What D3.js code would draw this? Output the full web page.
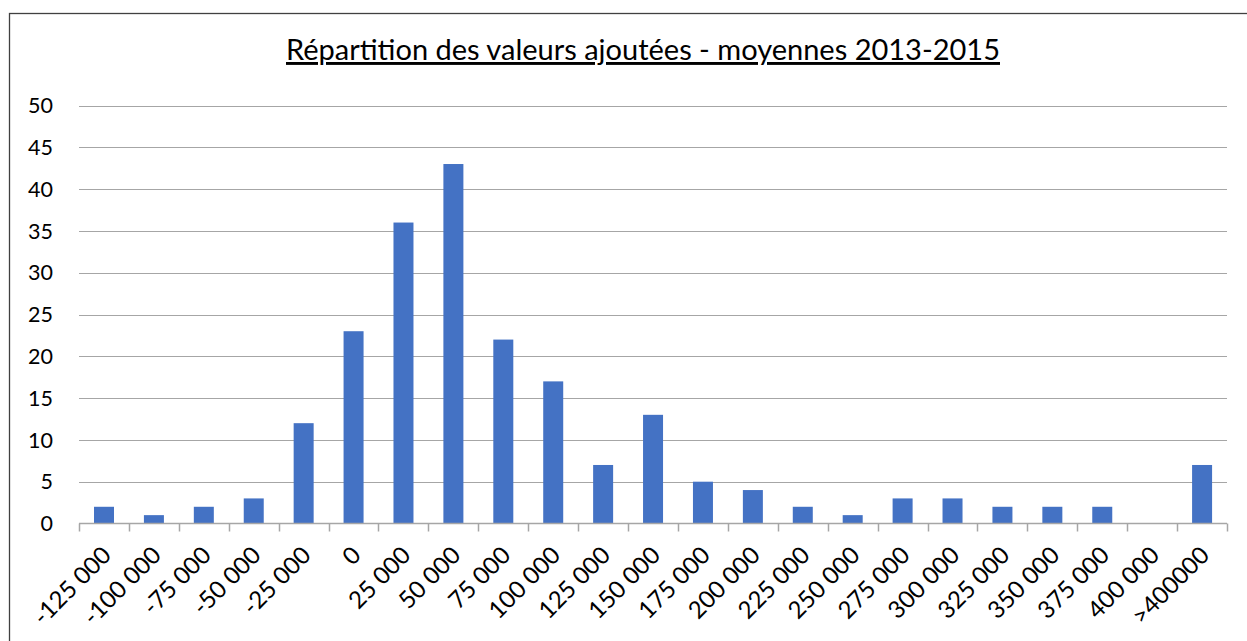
<!DOCTYPE html>
<html>
<head>
<meta charset="utf-8">
<script src="https://d3js.org/d3.v7.min.js"></script>
<style>
  body { margin: 0; background: #fff; }
  text { font-family: Lato, "Open Sans", sans-serif; fill: #000; }
</style>
</head>
<body>
<div id="my_dataviz"></div>
<script>
// categories (upper bound of each class) and counts
var categories = ["-125 000", "-100 000", "-75 000", "-50 000", "-25 000", "0", "25 000", "50 000",
  "75 000", "100 000", "125 000", "150 000", "175 000", "200 000", "225 000", "250 000",
  "275 000", "300 000", "325 000", "350 000", "375 000", "400 000", ">400000"]
var counts = [2, 1, 2, 3, 12, 23, 36, 43, 22, 17, 7, 13, 5, 4, 2, 1, 3, 3, 2, 2, 2, 0, 7]
var yTicks = [0, 5, 10, 15, 20, 25, 30, 35, 40, 45, 50]
var title = "Répartition des valeurs ajoutées - moyennes 2013-2015"

var width = 1247, height = 641
var plotLeft = 79, plotRight = 1227, plotTop = 105.5, plotBottom = 523.5

var svg = d3.select("#my_dataviz").append("svg")
  .attr("width", width).attr("height", height)

// chart border
svg.append("rect")
  .attr("x", 9.5).attr("y", 13.5)
  .attr("width", 1260).attr("height", 660)
  .attr("fill", "none").attr("stroke", "#404040").attr("stroke-width", 1.3)

// title
svg.append("text")
  .attr("x", 643).attr("y", 60)
  .attr("text-anchor", "middle")
  .style("font-size", "29px")
  .style("text-decoration", "underline")
  .text(title)

var xb = d3.scaleBand().domain(categories).range([plotLeft, plotRight])
var y = d3.scaleLinear().domain([0, 50]).range([plotBottom, plotTop])

// gridlines
svg.append("g").selectAll("line")
  .data(yTicks.filter(function(d) { return d > 0 }))
  .enter().append("line")
  .attr("x1", plotLeft).attr("x2", plotRight)
  .attr("y1", function(d) { return Math.round(y(d)) + 0.5 })
  .attr("y2", function(d) { return Math.round(y(d)) + 0.5 })
  .attr("stroke", "#a6a6a6").attr("stroke-width", 1)

// y labels
svg.append("g").selectAll("text")
  .data(yTicks)
  .enter().append("text")
  .attr("x", 53).attr("y", function(d) { return y(d) })
  .attr("dy", "0.36em")
  .attr("text-anchor", "end")
  .style("font-size", "21.5px")
  .text(function(d) { return d })

// bars
svg.append("g").selectAll("rect")
  .data(counts)
  .enter().append("rect")
  .attr("x", function(d, i) { return xb(categories[i]) + 15 })
  .attr("width", 20)
  .attr("y", function(d) { return y(d) })
  .attr("height", function(d) { return plotBottom - y(d) })
  .attr("fill", "#4472c4")

// x axis, ticks on category boundaries
var xAxis = svg.append("g")
xAxis.append("line")
  .attr("x1", plotLeft).attr("x2", plotRight)
  .attr("y1", plotBottom).attr("y2", plotBottom)
  .attr("stroke", "#a6a6a6").attr("stroke-width", 1.5)
xAxis.selectAll(".tick")
  .data(categories.concat(["end"]))
  .enter().append("line")
  .attr("x1", function(d, i) { return Math.round(plotLeft + i * xb.bandwidth()) + 0.5 })
  .attr("x2", function(d, i) { return Math.round(plotLeft + i * xb.bandwidth()) + 0.5 })
  .attr("y1", plotBottom).attr("y2", plotBottom + 8)
  .attr("stroke", "#a6a6a6").attr("stroke-width", 1.5)

xAxis.selectAll(".lab")
  .data(categories)
  .enter().append("text")
  .attr("text-anchor", "end")
  .attr("transform", function(d) {
    var cx = xb(d) + xb.bandwidth() / 2 - 4
    return "translate(" + cx + "," + 544 + ") rotate(-45)"
  })
  .attr("dy", "0.75em")
  .style("font-size", "24px")
  .text(function(d) { return d })
</script>
</body>
</html>
